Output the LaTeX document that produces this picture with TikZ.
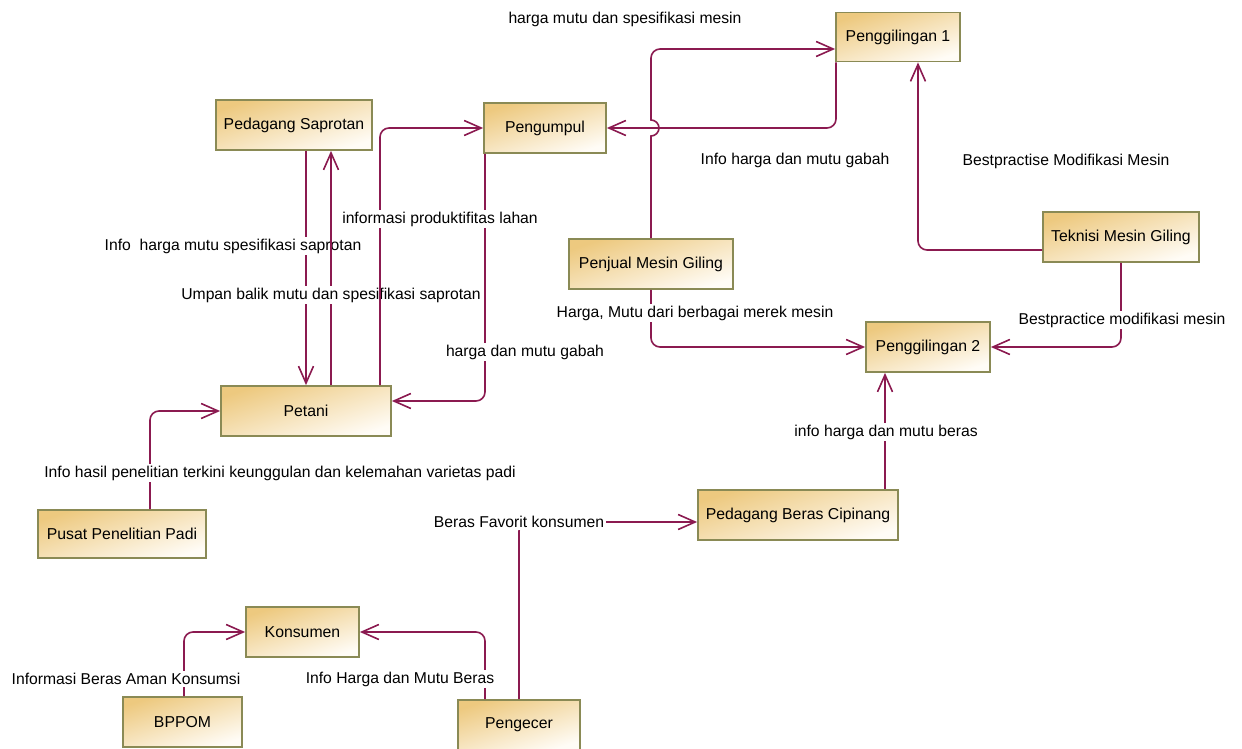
\documentclass[tikz,border=0pt]{standalone}
\usepackage{fontspec}
\setmainfont{Liberation Sans}
\usetikzlibrary{arrows.meta}
\definecolor{ln}{HTML}{8B1A50}
\definecolor{bd}{HTML}{8A8A55}
\definecolor{gA}{HTML}{EDC97F}
\definecolor{gB}{HTML}{FFFCF6}
\begin{document}
\begin{tikzpicture}[x=1pt,y=-1pt,
  ent/.style={draw=bd, line width=1.8pt, top color=gA, bottom color=gB, shading angle=18,
    minimum height=50pt, inner sep=0pt, font=\fontsize{15.8}{18}\selectfont},
  conn/.style={draw=ln, line width=1.6pt, rounded corners=9pt,
    -{Straight Barb[length=17pt,width=15pt,line width=1.6pt]}},
  lbl/.style={fill=white, inner sep=2pt, font=\fontsize{15.7}{18}\selectfont}]
\fill[white] (0,0) rectangle (1242,749);
\useasboundingbox (0,0) rectangle (1242,749);

% entities
\node[ent, minimum width=156pt] (sap) at (294,125) {Pedagang Saprotan};
\node[ent, minimum width=122pt] (pgm) at (545,128) {Pengumpul};
\node[ent, minimum width=124pt, minimum height=49pt] (pg1) at (898,37) {Penggilingan 1};
\node[ent, minimum width=164pt] (pjm) at (651,264) {Penjual Mesin Giling};
\node[ent, minimum width=156pt] (tek) at (1121,237) {Teknisi Mesin Giling};
\node[ent, minimum width=124pt] (pg2) at (928,347) {Penggilingan 2};
\node[ent, minimum width=170pt] (pet) at (306,411) {Petani};
\node[ent, minimum width=168pt, minimum height=48pt] (pus) at (122,534) {Pusat Penelitian Padi};
\node[ent, minimum width=200pt] (pbc) at (798,515) {Pedagang Beras Cipinang};
\node[ent, minimum width=113pt] (kon) at (302.5,632) {Konsumen};
\node[ent, minimum width=119pt] (bpp) at (182.5,722) {BPPOM};
\node[ent, minimum width=122pt] (pec) at (519,725) {Pengecer};

% Petani / Saprotan / Pengumpul
\draw[conn] (sap.south -| 306,0) -- (pet.north -| 306,0);
\node[lbl] (l1) at (233,246) {Info\ \ harga mutu spesifikasi saprotan};
\draw[conn] (pet.north -| 331,0) -- (sap.south -| 331,0);
\node[lbl] (l2) at (331,295) {Umpan balik mutu dan spesifikasi saprotan};
\draw[conn] (pgm.south -| 485,0) |- (pet.east |- 0,401);
\draw[conn] (pet.north -| 380,0) |- (pgm.west);
\node[lbl] (l3) at (440,219) {informasi produktifitas lahan};
\node[lbl] (l4) at (525,352) {harga dan mutu gabah};

% Penggilingan 1 -> Pengumpul
\draw[conn] (pg1.south -| 836,0) |- (pgm.east);
\node[lbl] (l5) at (795,160) {Info harga dan mutu gabah};

% Penjual Mesin -> Penggilingan 1 (with hop)
\draw[conn] (pjm.north) [sharp corners] -- (651,136)
  arc[start angle=-90, end angle=90, radius=8pt] [rounded corners=9pt]
  -- (651,49) -- (pg1.west |- 0,49);
\node[lbl] (l6) at (625,19) {harga mutu dan spesifikasi mesin};

% Penjual Mesin -> Penggilingan 2
\draw[conn] (pjm.south) |- (pg2.west);
\node[lbl] (l7) at (695,313) {Harga, Mutu dari berbagai merek mesin};

% Teknisi
\draw[conn] (tek.west |- 0,250) -| (pg1.south -| 918,0);
\node[lbl] (l8) at (1066,161) {Bestpractise Modifikasi Mesin};
\draw[conn] (tek.south) |- (pg2.east);
\node[lbl] (l9) at (1122,320) {Bestpractice modifikasi mesin};

% Cipinang -> Penggilingan 2
\draw[conn] (pbc.north -| 885,0) -- (pg2.south -| 885,0);
\node[lbl] (l10) at (886,432) {info harga dan mutu beras};

% Pusat Penelitian -> Petani
\draw[conn] (pus.north -| 150,0) |- (pet.west);
\node[lbl] (l11) at (280,473) {Info hasil penelitian terkini keunggulan dan kelemahan varietas padi};

% Pengecer -> Cipinang
\draw[conn] (pec.north -| 519,0) |- (pbc.west |- 0,522);
\node[lbl] (l12) at (519,522) {Beras Favorit konsumen};

% Konsumen
\draw[conn] (pec.north -| 485,0) |- (kon.east);
\node[lbl] (l14) at (400,679) {Info Harga dan Mutu Beras};
\draw[conn] (bpp.north -| 184,0) |- (kon.west);
\node[lbl] (l13) at (126,679) {Informasi Beras Aman Konsumsi};
\end{tikzpicture}
\end{document}
